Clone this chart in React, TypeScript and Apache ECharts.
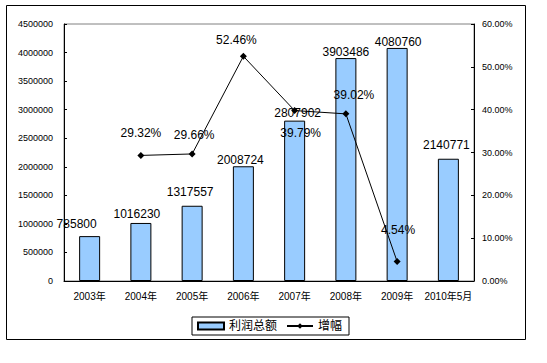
import React, { useEffect, useRef } from "react";
import * as echarts from "echarts";

const categories = ["2003年", "2004年", "2005年", "2006年", "2007年", "2008年", "2009年", "2010年5月"];
const profitTotals = [785800, 1016230, 1317557, 2008724, 2807902, 3903486, 4080760, 2140771];
const growthRates: (number | null)[] = [null, 29.32, 29.66, 52.46, 39.79, 39.02, 4.54, null];
const profitName = "利润总额";
const growthName = "增幅";

// label nudges (style only)
const barLabelNudge = [[-13, -6], [-4, -3], [-2, -8], [-3, 0], [3, -2], [0, 0], [1, 0], [-2, -8]];
const lineLabelNudge = [[0, 0], [0, -13], [2, -9], [-7, -7], [6, 32], [8, -9], [1, -22], [0, 0]];

const FONT = "'Liberation Sans', Arial, 'Noto Sans CJK SC', sans-serif";

export default function App() {
  const ref = useRef<HTMLDivElement>(null);
  useEffect(() => {
    if (!ref.current) return;
    const chart = echarts.init(ref.current, undefined, { renderer: "svg" });
    const barData = profitTotals.map((v, i) => ({
      value: v,
      label: { offset: barLabelNudge[i] },
    }));
    const lineData = growthRates.map((v, i) =>
      v === null ? null : { value: v, label: { offset: lineLabelNudge[i] } }
    );
    chart.setOption({
      animation: false,
      backgroundColor: "#ffffff",
      textStyle: { fontFamily: FONT },
      graphic: [
        {
          type: "rect",
          shape: { x: 6.5, y: 5.5, width: 519, height: 334 },
          style: { fill: "none", stroke: "#000", lineWidth: 1 },
          silent: true,
          z: -1,
        },
      ],
      grid: {
        left: 64,
        top: 24,
        right: 73,
        bottom: 82,
        show: true,
        borderColor: "#808080",
        borderWidth: 1,
        backgroundColor: "transparent",
      },
      legend: {
        left: 192,
        top: 317,
        padding: [3, 7, 3, 5],
        borderColor: "#000",
        borderWidth: 1,
        itemWidth: 26,
        itemHeight: 7,
        itemGap: 9,
        textStyle: { fontSize: 12, color: "#000", fontFamily: FONT },
        data: [
          { name: profitName, icon: "rect" },
          { name: growthName },
        ],
      },
      xAxis: {
        type: "category",
        data: categories,
        boundaryGap: true,
        axisLine: { lineStyle: { color: "#000", width: 1 } },
        axisTick: { inside: true, length: 3, lineStyle: { color: "#000" } },
        axisLabel: { fontSize: 10, color: "#000", margin: 10, interval: 0, fontFamily: FONT },
        splitLine: { show: false },
      },
      yAxis: [
        {
          type: "value",
          min: 0,
          max: 4500000,
          interval: 500000,
          axisLine: { show: true, lineStyle: { color: "#000" } },
          axisTick: { show: true, inside: true, length: 3, lineStyle: { color: "#000" } },
          axisLabel: {
            fontSize: 9,
            color: "#000",
            margin: 11,
            fontFamily: FONT,
            formatter: (v: number) => String(v),
          },
          splitLine: { show: false },
        },
        {
          type: "value",
          min: 0,
          max: 60,
          interval: 10,
          position: "right",
          axisLine: { show: true, lineStyle: { color: "#000" } },
          axisTick: { show: true, inside: true, length: 3, lineStyle: { color: "#000" } },
          axisLabel: {
            fontSize: 9,
            color: "#000",
            margin: 8,
            fontFamily: FONT,
            formatter: (v: number) => v.toFixed(2) + "%",
          },
          splitLine: { show: false },
        },
      ],
      series: [
        {
          name: profitName,
          type: "bar",
          yAxisIndex: 0,
          barWidth: 21,
          data: barData,
          itemStyle: { color: "#99CCFF", borderColor: "#000", borderWidth: 1 },
          label: {
            show: true,
            position: "top",
            distance: 0,
            fontSize: 12,
            color: "#000",
            fontFamily: FONT,
          },
        },
        {
          name: growthName,
          type: "line",
          yAxisIndex: 1,
          data: lineData,
          connectNulls: false,
          symbol: "diamond",
          symbolSize: 7,
          lineStyle: { color: "#000", width: 1 },
          itemStyle: { color: "#000" },
          label: {
            show: true,
            position: "top",
            distance: 0,
            fontSize: 12,
            color: "#000",
            fontFamily: FONT,
            formatter: (p: any) => Number(p.value).toFixed(2) + "%",
          },
          z: 5,
        },
      ],
    });
    return () => chart.dispose();
  }, []);
  return (
    <div
      ref={ref}
      style={{ position: "absolute", left: 0, top: 0, width: 547, height: 363 }}
    />
  );
}
